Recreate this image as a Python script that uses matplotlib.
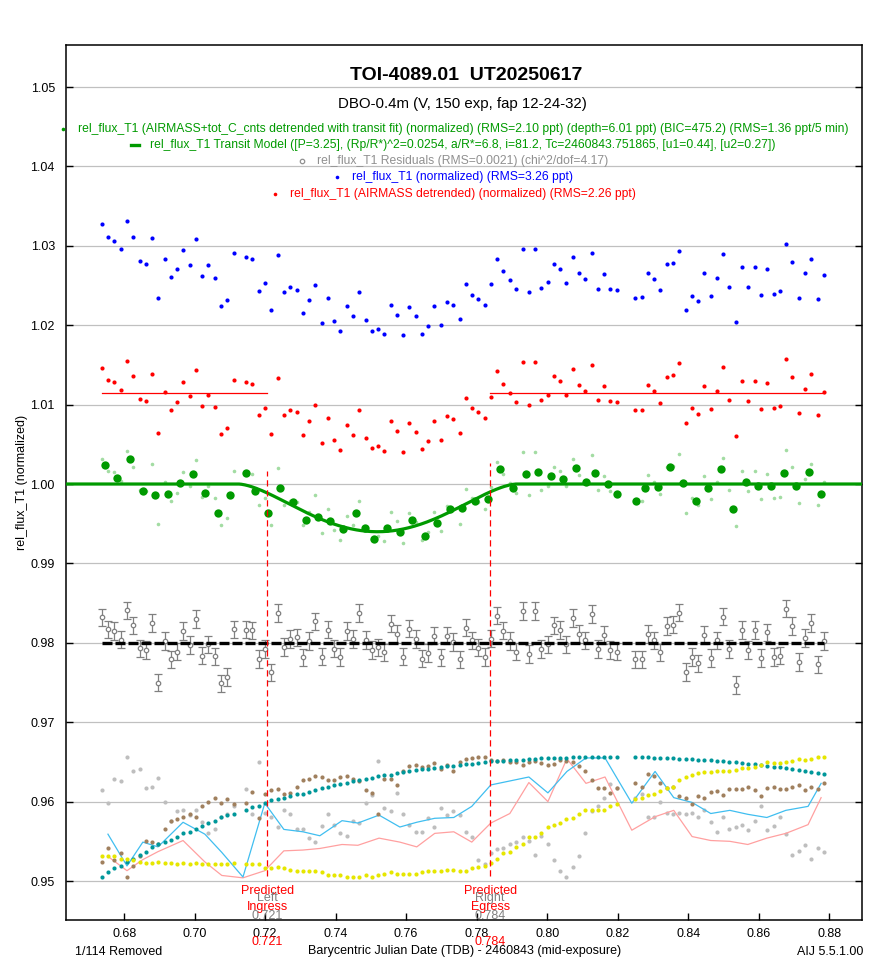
import numpy as np
import matplotlib
matplotlib.use('Agg')
import matplotlib.pyplot as plt
from matplotlib.lines import Line2D
from matplotlib import transforms

plt.rcParams['font.family'] = ['Liberation Sans', 'DejaVu Sans']

W, H = 879, 963

# ---- data (BJD_TDB - 2460843), one exposure per entry ----
bjd = [0.6737, 0.6755, 0.6772, 0.6790, 0.6808, 0.6826, 0.6844, 0.6861, 0.6879, 0.6897,
       0.6915, 0.6932, 0.6950, 0.6968, 0.6986, 0.7004, 0.7022, 0.7039, 0.7057, 0.7075,
       0.7093, 0.7111,
       0.7146, 0.7164, 0.7182, 0.7200, 0.7217, 0.7235, 0.7253, 0.7271, 0.7289, 0.7306,
       0.7324, 0.7342, 0.7360, 0.7378, 0.7396, 0.7413, 0.7431, 0.7449, 0.7467, 0.7485,
       0.7502, 0.7520, 0.7538, 0.7556, 0.7574, 0.7591, 0.7609, 0.7627, 0.7645, 0.7663,
       0.7680, 0.7698, 0.7716, 0.7734, 0.7752, 0.7769, 0.7787, 0.7805, 0.7823, 0.7841,
       0.7858, 0.7876, 0.7894, 0.7912, 0.7930, 0.7948, 0.7965, 0.7983, 0.8001, 0.8019,
       0.8037, 0.8054, 0.8072, 0.8090, 0.8108, 0.8126, 0.8143, 0.8161, 0.8179, 0.8197,
       0.8250, 0.8268, 0.8286, 0.8304, 0.8321, 0.8339, 0.8357, 0.8375, 0.8393, 0.8410,
       0.8428, 0.8446, 0.8464, 0.8482, 0.8499, 0.8517, 0.8535, 0.8553, 0.8571, 0.8589,
       0.8606, 0.8624, 0.8642, 0.8660, 0.8678, 0.8695, 0.8713, 0.8731, 0.8749, 0.8767,
       0.8784]

# rel_flux_T1 (normalized), blue, as displayed
flux_raw = [1.0327, 1.0311, 1.0306, 1.0296, 1.0331, 1.0311, 1.0281, 1.0277, 1.0310, 1.0234,
            1.0284, 1.0261, 1.0271, 1.0295, 1.0276, 1.0308, 1.0262, 1.0276, 1.0259, 1.0224,
            1.0232, 1.0291,
            1.0286, 1.0283, 1.0243, 1.0253, 1.0219, 1.0288, 1.0242, 1.0248, 1.0244, 1.0215,
            1.0232, 1.0251, 1.0203, 1.0234, 1.0205, 1.0193, 1.0224, 1.0212, 1.0242, 1.0206,
            1.0193, 1.0195, 1.0189, 1.0225, 1.0213, 1.0188, 1.0223, 1.0212, 1.0189, 1.0199,
            1.0224, 1.0200, 1.0229, 1.0225, 1.0208, 1.0252, 1.0238, 1.0233,
            1.0225, 1.0252, 1.0284, 1.0268, 1.0257, 1.0245, 1.0296, 1.0242, 1.0296, 1.0247,
            1.0254, 1.0277, 1.0271, 1.0253, 1.0286, 1.0266, 1.0258, 1.0291, 1.0245, 1.0264,
            1.0245, 1.0244,
            1.0234, 1.0235, 1.0266, 1.0258, 1.0244, 1.0277, 1.0278, 1.0293, 1.0219, 1.0237,
            1.0230, 1.0266, 1.0237, 1.0259, 1.0290, 1.0248, 1.0204, 1.0273, 1.0248, 1.0273,
            1.0238, 1.0271, 1.0239, 1.0243, 1.0302, 1.0279, 1.0234, 1.0266, 1.0284, 1.0233,
            1.0263]

# AIRMASS detrended (normalized), red, as displayed
flux_am = [1.0146, 1.0131, 1.0129, 1.0118, 1.0155, 1.0136, 1.0107, 1.0105, 1.0139, 1.0064,
           1.0116, 1.0093, 1.0103, 1.0129, 1.0111, 1.0144, 1.0098, 1.0112, 1.0097, 1.0063,
           1.0071, 1.0131,
           1.0129, 1.0126, 1.0087, 1.0096, 1.0063, 1.0134, 1.0087, 1.0093, 1.0091, 1.0062,
           1.0079, 1.0100, 1.0052, 1.0083, 1.0056, 1.0043, 1.0074, 1.0062, 1.0093, 1.0058,
           1.0045, 1.0048, 1.0042, 1.0079, 1.0067, 1.0040, 1.0077, 1.0066, 1.0044, 1.0054,
           1.0079, 1.0055, 1.0086, 1.0082, 1.0064, 1.0108, 1.0096, 1.0091,
           1.0083, 1.0110, 1.0142, 1.0126, 1.0115, 1.0103, 1.0154, 1.0100, 1.0154, 1.0106,
           1.0112, 1.0136, 1.0130, 1.0112, 1.0145, 1.0125, 1.0117, 1.0150, 1.0106, 1.0124,
           1.0105, 1.0103,
           1.0093, 1.0093, 1.0125, 1.0117, 1.0102, 1.0135, 1.0137, 1.0152, 1.0077, 1.0096,
           1.0088, 1.0124, 1.0095, 1.0117, 1.0147, 1.0106, 1.0061, 1.0130, 1.0105, 1.0130,
           1.0095, 1.0127, 1.0096, 1.0098, 1.0157, 1.0135, 1.0090, 1.0120, 1.0139, 1.0087,
           1.0116]
am_baseline = 1.0114

# AIRMASS+tot_C_cnts detrended (normalized), light green
flux_det = [1.0032, 1.0017, 1.0015, 1.0004, 1.0041, 1.0022, 0.9993, 0.9991, 1.0025, 0.9950,
            1.0002, 0.9979, 0.9989, 1.0015, 0.9997, 1.0030, 0.9984, 0.9998, 0.9983, 0.9949,
            0.9957, 1.0017,
            1.0015, 1.0012, 0.9973, 0.9982, 0.9949, 1.0020, 0.9973, 0.9979, 0.9977, 0.9948,
            0.9965, 0.9986, 0.9938, 0.9969, 0.9942, 0.9929, 0.9960, 0.9948, 0.9979, 0.9944,
            0.9931, 0.9934, 0.9928, 0.9965, 0.9953, 0.9926, 0.9963, 0.9952, 0.9930, 0.9940,
            0.9965, 0.9941, 0.9972, 0.9968, 0.9950, 0.9994, 0.9982, 0.9977,
            0.9969, 0.9996, 1.0028, 1.0012, 1.0001, 0.9989, 1.0040, 0.9986, 1.0040, 0.9992,
            0.9998, 1.0022, 1.0016, 0.9998, 1.0031, 1.0011, 1.0003, 1.0036, 0.9992, 1.0010,
            0.9991, 0.9989,
            0.9979, 0.9979, 1.0011, 1.0003, 0.9988, 1.0021, 1.0023, 1.0038, 0.9963, 0.9982,
            0.9974, 1.0010, 0.9981, 1.0003, 1.0033, 0.9992, 0.9947, 1.0016, 0.9991, 1.0016,
            0.9981, 1.0013, 0.9982, 0.9984, 1.0043, 1.0021, 0.9976, 1.0006, 1.0025, 0.9973,
            1.0002]

# 5 min bins of the detrended flux, dark green
bin_bjd = [0.6745, 0.6779, 0.6816, 0.6853, 0.6887, 0.6923, 0.6958, 0.6994, 0.7029, 0.7066,
           0.7100, 0.7145, 0.7171, 0.7207, 0.7242, 0.7279, 0.7315, 0.7350, 0.7384, 0.7420,
           0.7457, 0.7483, 0.7508, 0.7545, 0.7582, 0.7616, 0.7653, 0.7687, 0.7724, 0.7758,
           0.7795, 0.7832, 0.7865, 0.7902, 0.7939, 0.7974, 0.8010, 0.8045, 0.8081, 0.8109,
           0.8135, 0.8172, 0.8198, 0.8252, 0.8277, 0.8314, 0.8347, 0.8385, 0.8422, 0.8456,
           0.8493, 0.8527, 0.8563, 0.8598, 0.8635, 0.8671, 0.8706, 0.8742, 0.8777]
bin_flux = [1.0024, 1.0008, 1.0031, 0.9991, 0.9986, 0.9988, 1.0001, 1.0012, 0.9989, 0.9964,
            0.9986, 1.0014, 0.9991, 0.9964, 0.9995, 0.9977, 0.9955, 0.9959, 0.9954, 0.9943,
            0.9963, 0.9944, 0.9931, 0.9945, 0.9939, 0.9955, 0.9934, 0.9951, 0.9969, 0.9970,
            0.9978, 0.9981, 1.0019, 0.9995, 1.0012, 1.0015, 1.0010, 1.0006, 1.0020, 1.0002,
            1.0014, 1.0000, 0.9988, 0.9979, 0.9995, 0.9996, 1.0022, 1.0001, 0.9978, 0.9995,
            1.0019, 0.9969, 1.0003, 0.9998, 0.9997, 1.0014, 0.9997, 1.0015, 0.9987]

# transit model parameters from the legend
period = 3.25
rp2 = 0.0254
a_rs = 6.8
inc = 81.2
tc = 0.751865
u1, u2 = 0.44, 0.27
depth = 0.00601
resid_offset = 0.98
resid_err = 0.0011

# predicted ingress / egress
t_ingress = 0.7206
t_egress = 0.7838

# auxiliary series (scaled and shifted for display)
aux_teal = [0.9505, 0.9511, 0.9516, 0.9519, 0.9524, 0.9528, 0.9533, 0.9537, 0.9543, 0.9546,
            0.9549, 0.9552, 0.9556, 0.9560, 0.9562, 0.9566, 0.9569, 0.9573, 0.9576, 0.9580,
            0.9583, 0.9585,
            0.9590, 0.9593, 0.9595, 0.9598, 0.9602, 0.9603, 0.9605, 0.9607, 0.9609, 0.9609,
            0.9612, 0.9614, 0.9617, 0.9618, 0.9621, 0.9622, 0.9623, 0.9626, 0.9627, 0.9628,
            0.9630, 0.9632, 0.9633, 0.9634, 0.9636, 0.9637, 0.9638, 0.9640, 0.9641, 0.9641,
            0.9642, 0.9643, 0.9645, 0.9645, 0.9646, 0.9647, 0.9647, 0.9649,
            0.9650, 0.9651, 0.9651, 0.9651, 0.9652, 0.9652, 0.9652, 0.9654, 0.9654, 0.9655,
            0.9655, 0.9655, 0.9655, 0.9655, 0.9656, 0.9656, 0.9656, 0.9656, 0.9656, 0.9656,
            0.9656, 0.9656,
            0.9656, 0.9656, 0.9656, 0.9655, 0.9655, 0.9655, 0.9655, 0.9654, 0.9654, 0.9654,
            0.9652, 0.9652, 0.9652, 0.9651, 0.9651, 0.9650, 0.9650, 0.9649, 0.9647, 0.9647,
            0.9646, 0.9645, 0.9643, 0.9643, 0.9642, 0.9641, 0.9640, 0.9638, 0.9637, 0.9636,
            0.9635]

aux_yellow = [0.9532, 0.9531, 0.9531, 0.9528, 0.9528, 0.9527, 0.9524, 0.9523, 0.9523, 0.9524,
              0.9523, 0.9523, 0.9521, 0.9523, 0.9522, 0.9523, 0.9522, 0.9521, 0.9522, 0.9522,
              0.9522, 0.9523,
              0.9522, 0.9521, 0.9521, 0.9517, 0.9517, 0.9518, 0.9516, 0.9514, 0.9513, 0.9512,
              0.9513, 0.9512, 0.9511, 0.9507, 0.9508, 0.9507, 0.9505, 0.9505, 0.9505, 0.9507,
              0.9505, 0.9508, 0.9509, 0.9511, 0.9509, 0.9509, 0.9509, 0.9509, 0.9511, 0.9513,
              0.9513, 0.9513, 0.9514, 0.9514, 0.9513, 0.9513, 0.9517, 0.9518,
              0.9519, 0.9523, 0.9528, 0.9535, 0.9537, 0.9543, 0.9547, 0.9555, 0.9556, 0.9561,
              0.9568, 0.9571, 0.9573, 0.9578, 0.9579, 0.9584, 0.9589, 0.9590, 0.9590, 0.9590,
              0.9594, 0.9597,
              0.9603, 0.9605, 0.9608, 0.9609, 0.9613, 0.9617, 0.9618, 0.9627, 0.9631, 0.9633,
              0.9636, 0.9637, 0.9637, 0.9638, 0.9638, 0.9638, 0.9640, 0.9642, 0.9642, 0.9643,
              0.9646, 0.9650, 0.9649, 0.9649, 0.9650, 0.9651, 0.9654, 0.9652, 0.9654, 0.9656,
              0.9656]

aux_brown = [0.9524, 0.9542, 0.9526, 0.9535, 0.9505, 0.9519, 0.9531, 0.9550, 0.9549, 0.9546,
             0.9565, 0.9576, 0.9578, 0.9580, 0.9584, 0.9580, 0.9594, 0.9600, 0.9605, 0.9598,
             0.9603, 0.9597,
             0.9598, 0.9612, 0.9579, 0.9609, 0.9614, 0.9616, 0.9609, 0.9611, 0.9619, 0.9627,
             0.9628, 0.9632, 0.9631, 0.9627, 0.9627, 0.9631, 0.9632, 0.9628, 0.9626, 0.9614,
             0.9611, 0.9584, 0.9628, 0.9628, 0.9621, 0.9638, 0.9645, 0.9646, 0.9643, 0.9645,
             0.9649, 0.9641, 0.9646, 0.9638, 0.9650, 0.9654, 0.9655, 0.9656,
             0.9656, 0.9652, 0.9651, 0.9652, 0.9650, 0.9650, 0.9646, 0.9650, 0.9651, 0.9649,
             0.9646, 0.9647, 0.9652, 0.9651, 0.9650, 0.9645, 0.9638, 0.9627, 0.9617, 0.9617,
             0.9611, 0.9617,
             0.9623, 0.9618, 0.9635, 0.9632, 0.9624, 0.9617, 0.9619, 0.9607, 0.9605, 0.9597,
             0.9607, 0.9605, 0.9612, 0.9613, 0.9608, 0.9616, 0.9616, 0.9616, 0.9619, 0.9614,
             0.9607, 0.9617, 0.9619, 0.9616, 0.9616, 0.9618, 0.9621, 0.9614, 0.9619, 0.9616,
             0.9623]

aux_gray = [0.9614, 0.9598, 0.9628, 0.9626, 0.9656, 0.9638, 0.9641, 0.9617, 0.9618, 0.9630,
            0.9600, 0.9575, 0.9588, 0.9590, 0.9583, 0.9589, 0.9574, 0.9560, 0.9566, 0.9580,
            0.9585, 0.9595,
            0.9616, 0.9584, 0.9650, 0.9586, 0.9580, 0.9568, 0.9589, 0.9584, 0.9565, 0.9566,
            0.9554, 0.9549, 0.9569, 0.9585, 0.9571, 0.9561, 0.9557, 0.9576, 0.9573, 0.9598,
            0.9608, 0.9651, 0.9592, 0.9588, 0.9611, 0.9584, 0.9570, 0.9562, 0.9562, 0.9579,
            0.9568, 0.9592, 0.9583, 0.9588, 0.9583, 0.9562, 0.9555, 0.9527,
            0.9522, 0.9535, 0.9540, 0.9541, 0.9547, 0.9549, 0.9555, 0.9550, 0.9533, 0.9557,
            0.9546, 0.9526, 0.9513, 0.9505, 0.9518, 0.9532, 0.9561, 0.9588, 0.9595, 0.9605,
            0.9622, 0.9617,
            0.9604, 0.9609, 0.9580, 0.9581, 0.9599, 0.9586, 0.9584, 0.9586, 0.9585, 0.9586,
            0.9580, 0.9589, 0.9574, 0.9562, 0.9580, 0.9565, 0.9568, 0.9570, 0.9564, 0.9575,
            0.9594, 0.9564, 0.9569, 0.9580, 0.9559, 0.9533, 0.9538, 0.9545, 0.9528, 0.9541,
            0.9537]

# binned auxiliary series drawn as lines
line_bjd = [0.6754, 0.6808, 0.6853, 0.6896, 0.6967, 0.7029, 0.7077, 0.7137, 0.7199, 0.7253,
            0.7307, 0.7355, 0.7418, 0.7463, 0.7523, 0.7582, 0.7630, 0.7681, 0.7735, 0.7786,
            0.7840, 0.7894, 0.7948, 0.8002, 0.8056, 0.8110, 0.8164, 0.8240, 0.8306, 0.8359,
            0.8411, 0.8464, 0.8518, 0.8569, 0.8623, 0.8677, 0.8740, 0.8777]
line_blue = [0.9559, 0.9519, 0.9549, 0.9543, 0.9574, 0.9559, 0.9536, 0.9505, 0.9598, 0.9565,
             0.9562, 0.9557, 0.9576, 0.9573, 0.9583, 0.9568, 0.9574, 0.9579, 0.9580, 0.9594,
             0.9621, 0.9626, 0.9631, 0.9611, 0.9638, 0.9655, 0.9655, 0.9598, 0.9638, 0.9605,
             0.9599, 0.9585, 0.9589, 0.9584, 0.9580, 0.9589, 0.9594, 0.9623]
line_pink = [0.9531, 0.9513, 0.9527, 0.9537, 0.9551, 0.9524, 0.9507, 0.9504, 0.9513, 0.9538,
             0.9539, 0.9541, 0.9546, 0.9545, 0.9554, 0.9549, 0.9543, 0.9560, 0.9562, 0.9549,
             0.9573, 0.9585, 0.9624, 0.9600, 0.9654, 0.9623, 0.9631, 0.9564, 0.9581, 0.9589,
             0.9556, 0.9551, 0.9550, 0.9546, 0.9554, 0.9560, 0.9571, 0.9605]


def transit_shape(t):
    # quadratic limb-darkened star, planet disk integrated on a grid
    k = np.sqrt(rp2)
    ph = 2 * np.pi * (np.asarray(t) - tc) / period
    px = a_rs * np.sin(ph)
    py = a_rs * np.cos(ph) * np.cos(np.radians(inc))
    g = np.linspace(-k, k, 241)
    gx, gy = np.meshgrid(g, g)
    keep = gx**2 + gy**2 <= k**2
    gx, gy = gx[keep], gy[keep]
    dA = (g[1] - g[0])**2
    total = np.pi * (1 - u1 / 3 - u2 / 6)
    out = np.ones(len(px))
    for j in range(len(px)):
        r2 = (px[j] + gx)**2 + (py[j] + gy)**2
        on = r2 < 1
        if not on.any():
            continue
        mu = np.sqrt(1 - r2[on])
        inten = 1 - u1 * (1 - mu) - u2 * (1 - mu)**2
        out[j] = 1 - inten.sum() * dA / total
    return out


bjd = np.array(bjd)
xlim = (0.6635, 0.8893)
t_model = np.linspace(xlim[0], xlim[1], 700)
shape = transit_shape(t_model)
scale = depth / (1 - shape.min())
model = 1 - (1 - shape) * scale
model_at_data = 1 - (1 - transit_shape(bjd)) * scale
resid = np.array(flux_det) - model_at_data + resid_offset

fig = plt.figure(figsize=(W / 100, H / 100), dpi=100)
ax = fig.add_axes([66 / W, 1 - 920 / H, (862 - 66) / W, (920 - 45) / H])
ax.set_xlim(*xlim)
ax.set_ylim(0.94509, 1.05529)

ax.set_yticks(np.round(np.arange(0.95, 1.0501, 0.01), 2))
ax.set_yticklabels(['%.2f' % v for v in np.arange(0.95, 1.0501, 0.01)])
ax.set_xticks(np.round(np.arange(0.68, 0.8801, 0.02), 2))
ax.set_xticklabels(['%.2f' % v for v in np.arange(0.68, 0.8801, 0.02)])
ax.tick_params(axis='y', direction='in', length=5, width=1, left=True, right=True,
               labelsize=9, pad=8)
ax.tick_params(axis='x', direction='in', length=5, width=1, bottom=True, top=False,
               labelsize=9, pad=6)
ax.yaxis.grid(True, color='#c0c0c0', lw=0.9)
ax.xaxis.grid(False)
ax.set_axisbelow(True)
for s in ax.spines.values():
    s.set_linewidth(1.1)

ms_small = 3.0

# auxiliary panel
ax.plot(bjd, aux_gray, 'o', color='#bebebe', ms=ms_small, mew=0, zorder=2)
ax.plot(line_bjd, line_pink, '-', color='#ffa0a0', lw=0.9, zorder=2)
ax.plot(line_bjd, line_blue, '-', color='#40bef0', lw=0.9, zorder=2)
ax.plot(bjd, aux_brown, 'o', color='#a0805e', ms=ms_small, mew=0, zorder=3)
ax.plot(bjd, aux_teal, 'o', color='#00979a', ms=ms_small, mew=0, zorder=3)
ax.plot(bjd, aux_yellow, 'o', color='#e6e600', ms=ms_small, mew=0, zorder=3)

# residuals
ax.errorbar(bjd, resid, yerr=resid_err, fmt='o', ms=3.2, mfc='white', mec='#808080',
            mew=0.9, ecolor='#808080', elinewidth=0.9, capsize=2.6, capthick=0.9, zorder=4)
ax.plot([bjd[0], bjd[-1]], [resid_offset, resid_offset], color='black', lw=2.4,
        dashes=(3.0, 0.9), zorder=5)

# raw and airmass detrended
ax.plot(bjd, flux_raw, 'o', color='#0000ff', ms=ms_small, mew=0, zorder=4)
ax.plot(bjd, flux_am, 'o', color='#ff0000', ms=ms_small, mew=0, zorder=4)
ax.plot([bjd[0], t_ingress], [am_baseline, am_baseline], color='#ff0000', lw=0.9, zorder=4)
ax.plot([t_egress, bjd[-1]], [am_baseline, am_baseline], color='#ff0000', lw=0.9, zorder=4)

# detrended, model, bins
ax.plot(bjd, flux_det, 'o', color='#a3dca3', ms=2.6, mew=0, zorder=4)
ax.plot(t_model, model, '-', color='#009a00', lw=2.3, zorder=5)
ax.plot(bin_bjd, bin_flux, 'o', color='#009a00', ms=6.0, mew=0, zorder=6)

# predicted ingress / egress markers
ax.plot([t_ingress, t_ingress], [0.9506, 1.0016], color='red', lw=0.9, dashes=(5, 3), zorder=7)
ax.plot([t_egress, t_egress], [0.9506, 1.0027], color='red', lw=0.9, dashes=(5, 3), zorder=7)

tr = transforms.blended_transform_factory(ax.transData, fig.transFigure)


def fy(p):
    return 1 - p / H


for tt, side, lab in [(t_ingress, 'Left', 'Ingress'), (t_egress, 'Right', 'Egress')]:
    ax.text(tt, fy(891), 'Predicted', transform=tr, color='red', fontsize=9, ha='center', va='center')
    ax.text(tt, fy(898), side, transform=tr, color='#808080', fontsize=9, ha='center', va='center')
    ax.text(tt, fy(907), lab, transform=tr, color='red', fontsize=9, ha='center', va='center')
    ax.text(tt, fy(916), '%.3f' % tt, transform=tr, color='#808080', fontsize=9, ha='center', va='center')
    ax.text(tt, fy(942), '%.3f' % tt, transform=tr, color='red', fontsize=9, ha='center', va='center')

# titles and labels
fig.text(466 / W, fy(75), 'TOI-4089.01  UT20250617', fontsize=14, fontweight='bold',
         ha='center', va='center')
fig.text(462 / W, fy(104), 'DBO-0.4m (V, 150 exp, fap 12-24-32)', fontsize=10.8,
         ha='center', va='center')
fig.text(22 / W, fy(482), 'rel_flux_T1 (normalized)', fontsize=9, rotation=90,
         ha='center', va='center')
fig.text(465 / W, fy(951), 'Barycentric Julian Date (TDB) - 2460843 (mid-exposure)',
         fontsize=9, ha='center', va='center')
fig.text(75 / W, fy(952), '1/114 Removed', fontsize=9, ha='left', va='center')
fig.text(863 / W, fy(952), 'AIJ 5.5.1.00', fontsize=9, ha='right', va='center')

legend_rows = [
    ('rel_flux_T1 (AIRMASS+tot_C_cnts detrended with transit fit) (normalized) (RMS=2.10 ppt) '
     '(depth=6.01 ppt) (BIC=475.2) (RMS=1.36 ppt/5 min)', '#009a00', 'dot', 129),
    ('rel_flux_T1 Transit Model ([P=3.25], (Rp/R*)^2=0.0254, a/R*=6.8, i=81.2, '
     'Tc=2460843.751865, [u1=0.44], [u2=0.27])', '#009a00', 'dash', 145),
    ('rel_flux_T1 Residuals (RMS=0.0021) (chi^2/dof=4.17)', '#909090', 'circle', 161),
    ('rel_flux_T1 (normalized) (RMS=3.26 ppt)', '#0000ff', 'dot', 177),
    ('rel_flux_T1 (AIRMASS detrended) (normalized) (RMS=2.26 ppt)', '#ff0000', 'dot', 194),
]
texts = []
for label, col, kind, ypx in legend_rows:
    texts.append(fig.text(463 / W, fy(ypx), label, color=col, fontsize=8.75,
                          ha='center', va='center'))
fig.canvas.draw()
for txt, (label, col, kind, ypx) in zip(texts, legend_rows):
    x0 = txt.get_window_extent().x0
    mx = (x0 - 15) / W
    if kind == 'dot':
        fig.add_artist(Line2D([mx], [fy(ypx)], marker='o', ms=2.6, mew=0, color=col,
                              transform=fig.transFigure))
    elif kind == 'dash':
        fig.add_artist(Line2D([mx - 4 / W, mx + 4 / W], [fy(ypx), fy(ypx)], lw=2.4,
                              color=col, transform=fig.transFigure))
    else:
        fig.add_artist(Line2D([mx], [fy(ypx)], marker='o', ms=3.2, mfc='white', mec=col,
                              mew=0.9, transform=fig.transFigure))

fig.savefig('out.png', dpi=100)
